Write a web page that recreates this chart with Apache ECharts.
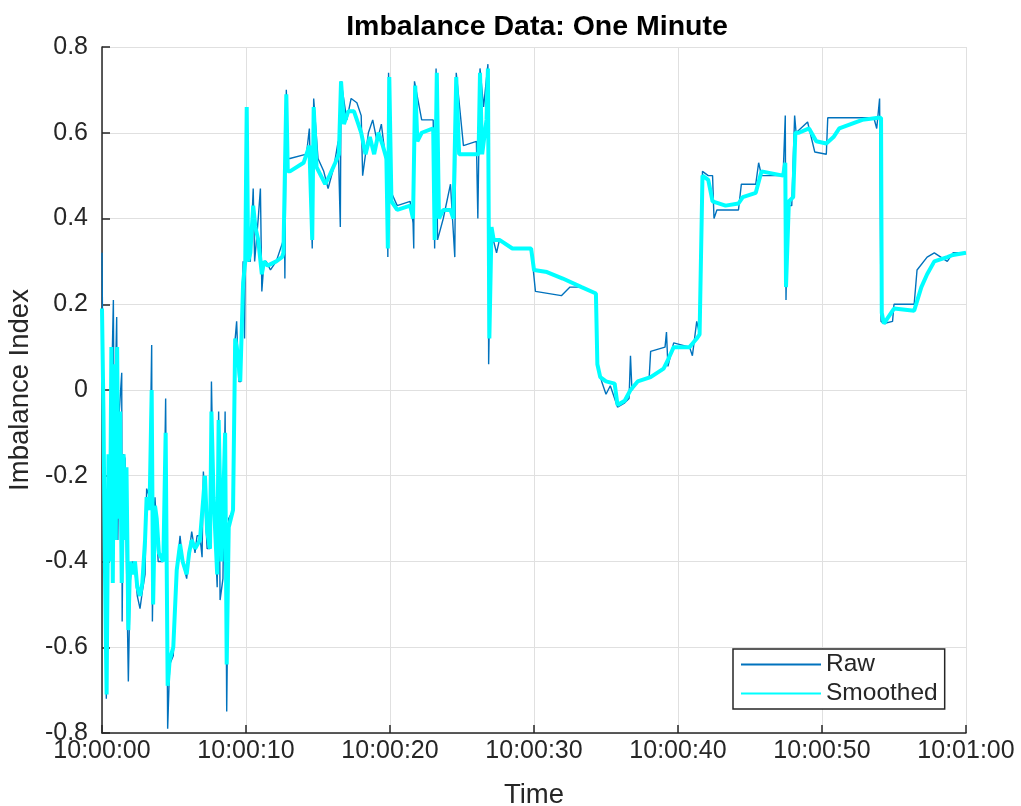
<!DOCTYPE html>
<html>
<head>
<meta charset="utf-8">
<script src="https://cdn.jsdelivr.net/npm/echarts@6/dist/echarts.min.js"></script>
<style>
  html, body { margin: 0; padding: 0; background: #fff; }
  #main { width: 1021px; height: 806px; }
</style>
</head>
<body>
<div id="main"></div>
<script>
// seconds after 10:00:00
const rawTime = [
  0.0, 0.05, 0.15, 0.3, 0.45, 0.6, 0.79, 0.85, 0.95, 1.02, 1.1, 1.2, 1.37, 1.4, 1.5, 1.6, 1.7, 1.83, 1.95, 2.1,
  2.29, 2.45, 2.64, 2.8, 2.99, 3.1, 3.3, 3.45, 3.5, 3.6, 3.68, 3.8, 3.9, 4.26, 4.42, 4.56, 4.7, 4.95, 5.19, 5.42,
  5.6, 5.88, 6.05, 6.23, 6.46, 6.6, 6.8, 6.95, 7.04, 7.15, 7.3, 7.5, 7.6, 7.75, 7.85, 8.0, 8.1, 8.2, 8.4, 8.55,
  8.66, 8.8, 9.1, 9.2, 9.35, 9.5, 9.65, 9.8, 9.9, 10.05, 10.15, 10.3, 10.5, 10.6, 10.85, 11.0, 11.1, 11.25, 11.4, 11.7,
  12.1, 12.6, 12.65, 12.7, 12.8, 12.9, 13.05, 14.2, 14.4, 14.6, 14.7, 15.0, 15.4, 15.7, 16.1, 16.4, 16.55, 16.6, 17.0, 17.3,
  17.7, 18.0, 18.1, 18.5, 18.8, 19.1, 19.4, 19.8, 19.85, 19.9, 20.1, 20.5, 21.4, 21.6, 21.65, 21.7, 22.2, 23.0, 23.1, 23.2,
  23.3, 23.7, 24.2, 24.5, 24.6, 25.1, 26.0, 26.1, 26.25, 26.5, 26.8, 26.85, 27.0, 27.1, 27.4, 27.6, 28.5, 29.8, 30.1, 31.9,
  32.5, 33.3, 34.3, 34.4, 34.7, 35.0, 35.3, 35.8, 36.3, 36.6, 36.7, 36.8, 37.2, 38.0, 38.1, 39.1, 39.2, 39.3, 39.7, 40.8,
  41.0, 41.3, 41.5, 41.7, 42.1, 42.4, 42.5, 42.7, 44.2, 44.4, 45.4, 45.6, 45.8, 47.3, 47.45, 47.5, 47.6, 47.9, 48.1, 48.2,
  49.0, 49.5, 50.3, 50.4, 53.6, 53.8, 54.0, 54.1, 54.3, 54.9, 55.0, 56.4, 56.6, 57.3, 57.8, 58.7, 59.1, 60.0
];
const rawValue = [
  0.32, 0.10, -0.30, -0.72, -0.30, -0.10, 0.21, -0.20, 0.05, 0.17, -0.35, -0.05, 0.04, -0.54, -0.15, -0.16, -0.40, -0.68, -0.45, -0.40,
  -0.42, -0.48, -0.51, -0.47, -0.43, -0.23, -0.25, 0.105, -0.54, -0.30, -0.25, -0.33, -0.40, -0.40, -0.02, -0.79, -0.64, -0.62, -0.42, -0.34,
  -0.40, -0.44, -0.38, -0.33, -0.38, -0.34, -0.34, -0.39, -0.19, -0.19, -0.37, -0.37, 0.02, -0.26, -0.26, -0.46, -0.05, -0.49, -0.44, -0.05,
  -0.75, -0.30, -0.28, 0.10, 0.16, 0.02, 0.02, 0.30, 0.12, 0.66, 0.30, 0.30, 0.47, 0.30, 0.40, 0.47, 0.23, 0.30, 0.30, 0.28,
  0.30, 0.35, 0.47, 0.26, 0.70, 0.54, 0.54, 0.55, 0.61, 0.33, 0.68, 0.54, 0.51, 0.47, 0.52, 0.58, 0.38, 0.72, 0.63, 0.68,
  0.67, 0.64, 0.50, 0.60, 0.63, 0.58, 0.62, 0.51, 0.31, 0.74, 0.46, 0.43, 0.44, 0.39, 0.33, 0.72, 0.63, 0.63, 0.33, 0.75,
  0.35, 0.40, 0.48, 0.31, 0.74, 0.57, 0.58, 0.40, 0.75, 0.66, 0.76, 0.06, 0.37, 0.36, 0.32, 0.35, 0.33, 0.33, 0.23, 0.22,
  0.24, 0.24, 0.225, 0.055, 0.02, -0.01, 0.01, -0.04, -0.03, -0.02, 0.08, 0.0, 0.02, 0.03, 0.09, 0.10, 0.135, 0.055, 0.11, 0.10,
  0.08, 0.16, 0.13, 0.51, 0.50, 0.50, 0.40, 0.42, 0.42, 0.48, 0.48, 0.53, 0.50, 0.50, 0.64, 0.21, 0.43, 0.43, 0.64, 0.60,
  0.625, 0.555, 0.55, 0.635, 0.635, 0.61, 0.68, 0.16, 0.155, 0.16, 0.20, 0.20, 0.28, 0.31, 0.32, 0.30, 0.32, 0.32
];

const smoothTime = [
  0.0, 0.1, 0.2, 0.32, 0.45, 0.55, 0.65, 0.75, 0.85, 0.95, 1.05, 1.15, 1.25, 1.37, 1.5, 1.6, 1.7, 1.83, 1.95, 2.1,
  2.29, 2.45, 2.64, 2.8, 2.99, 3.1, 3.3, 3.45, 3.55, 3.68, 3.8, 3.95, 4.26, 4.42, 4.56, 4.7, 4.95, 5.19, 5.42, 5.6,
  5.88, 6.05, 6.23, 6.46, 6.8, 7.04, 7.15, 7.3, 7.5, 7.6, 7.75, 8.0, 8.1, 8.3, 8.55, 8.66, 8.8, 9.1, 9.25, 9.4,
  9.6, 9.8, 9.95, 10.05, 10.15, 10.3, 10.5, 10.65, 10.85, 11.1, 11.25, 11.5, 12.1, 12.5, 12.6, 12.8, 12.9, 13.05, 14.0, 14.4,
  14.6, 14.7, 14.9, 15.2, 15.5, 15.8, 16.2, 16.45, 16.6, 16.8, 17.1, 17.5, 17.8, 18.0, 18.3, 18.6, 18.9, 19.2, 19.5, 19.75,
  19.85, 19.95, 20.1, 20.5, 21.4, 21.6, 21.65, 21.75, 21.9, 22.2, 23.0, 23.1, 23.25, 23.4, 23.7, 24.2, 24.4, 24.6, 24.8, 25.1,
  26.0, 26.15, 26.25, 26.4, 26.5, 26.7, 26.8, 26.9, 27.05, 27.2, 27.6, 28.5, 29.8, 30.0, 30.9, 32.0, 33.3, 34.3, 34.4, 34.6,
  35.0, 35.6, 35.8, 36.3, 36.7, 37.2, 38.1, 39.0, 39.3, 39.7, 40.8, 41.3, 41.5, 41.7, 42.1, 42.4, 43.3, 44.2, 44.5, 45.4,
  45.8, 47.3, 47.45, 47.5, 47.7, 48.0, 48.15, 48.4, 49.1, 49.6, 50.3, 50.8, 51.2, 52.8, 53.9, 54.1, 54.15, 54.3, 55.0, 56.4,
  56.9, 57.3, 57.8, 58.7, 59.1, 60.0
];
const smoothValue = [
  0.19, -0.05, -0.40, -0.71, -0.15, -0.40, 0.10, -0.45, 0.06, -0.35, 0.10, -0.30, -0.05, -0.45, -0.15, -0.35, -0.18, -0.56, -0.40, -0.43,
  -0.40, -0.46, -0.48, -0.45, -0.35, -0.25, -0.28, 0.00, -0.50, -0.27, -0.30, -0.38, -0.40, -0.10, -0.69, -0.63, -0.60, -0.42, -0.36, -0.40,
  -0.43, -0.38, -0.35, -0.37, -0.35, -0.25, -0.20, -0.33, -0.37, -0.05, -0.25, -0.43, -0.07, -0.40, -0.10, -0.64, -0.32, -0.28, 0.12, 0.09,
  0.02, 0.25, 0.30, 0.66, 0.30, 0.32, 0.43, 0.38, 0.35, 0.27, 0.30, 0.29, 0.30, 0.31, 0.32, 0.69, 0.51, 0.51, 0.53, 0.57,
  0.35, 0.66, 0.52, 0.50, 0.48, 0.50, 0.53, 0.55, 0.72, 0.62, 0.65, 0.65, 0.62, 0.60, 0.55, 0.59, 0.55, 0.60, 0.57, 0.54,
  0.33, 0.73, 0.44, 0.42, 0.43, 0.40, 0.40, 0.71, 0.58, 0.60, 0.61, 0.35, 0.74, 0.40, 0.42, 0.42, 0.40, 0.73, 0.55, 0.55,
  0.55, 0.55, 0.74, 0.55, 0.55, 0.63, 0.75, 0.12, 0.38, 0.35, 0.35, 0.33, 0.33, 0.28, 0.275, 0.26, 0.24, 0.225, 0.06, 0.03,
  0.02, 0.015, -0.035, -0.025, 0.00, 0.02, 0.03, 0.05, 0.07, 0.10, 0.10, 0.12, 0.13, 0.50, 0.49, 0.44, 0.43, 0.435, 0.45, 0.46,
  0.51, 0.50, 0.53, 0.24, 0.44, 0.45, 0.60, 0.60, 0.61, 0.58, 0.575, 0.59, 0.61, 0.63, 0.635, 0.635, 0.18, 0.155, 0.19, 0.185,
  0.24, 0.27, 0.30, 0.31, 0.315, 0.32
];

const xTicks = ['10:00:00', '10:00:10', '10:00:20', '10:00:30', '10:00:40', '10:00:50', '10:01:00'];

const textColor = '#262626';
const fontFamily = '"Liberation Sans", Arial, Helvetica, sans-serif';

const rawData = rawTime.map((t, i) => [t, rawValue[i]]);
const smoothData = smoothTime.map((t, i) => [t, smoothValue[i]]);

const chart = echarts.init(document.getElementById('main'));
const option = {
  animation: false,
  backgroundColor: '#fff',
  textStyle: { fontFamily: fontFamily, color: textColor },
  title: {
    text: 'Imbalance Data: One Minute',
    left: 532,
    textAlign: 'center',
    top: 8,
    textStyle: { fontSize: 28.5, fontWeight: 'bold', color: '#000', fontFamily: fontFamily }
  },
  grid: { left: 102, right: 55, top: 47, bottom: 73, containLabel: false, outerBoundsMode: 'none' },
  legend: {
    left: 733,
    top: 649,
    orient: 'vertical',
    itemWidth: 80,
    itemHeight: 14,
    itemGap: 4,
    padding: [3, 7],
    backgroundColor: '#fff',
    borderColor: textColor,
    borderWidth: 1.5,
    borderRadius: 0,
    itemStyle: { opacity: 0 },
    textStyle: { fontSize: 24.5, color: textColor, fontFamily: fontFamily },
    data: ['Raw', 'Smoothed']
  },
  xAxis: {
    type: 'value',
    min: 0,
    max: 60,
    interval: 10,
    name: 'Time',
    nameLocation: 'middle',
    nameGap: 48,
    nameTextStyle: { fontSize: 27.5, color: textColor },
    axisLine: { show: true, onZero: false, lineStyle: { color: textColor, width: 1.5 } },
    axisTick: { show: true, inside: true, length: 8, lineStyle: { color: textColor, width: 1.5 } },
    axisLabel: {
      fontSize: 25,
      color: textColor,
      margin: 6,
      formatter: v => xTicks[Math.round(v / 10)]
    },
    splitLine: { show: true, lineStyle: { color: '#e0e0e0', width: 1 } }
  },
  yAxis: {
    type: 'value',
    min: -0.8,
    max: 0.8,
    interval: 0.2,
    name: 'Imbalance Index',
    nameLocation: 'middle',
    nameGap: 68,
    nameTextStyle: { fontSize: 27.5, color: textColor },
    axisLine: { show: true, onZero: false, lineStyle: { color: textColor, width: 1.5 } },
    axisTick: { show: true, inside: true, length: 8, lineStyle: { color: textColor, width: 1.5 } },
    axisLabel: {
      fontSize: 25,
      color: textColor,
      margin: 14,
      formatter: v => (Math.abs(v) < 1e-9 ? '0' : v.toFixed(1))
    },
    splitLine: { show: true, lineStyle: { color: '#e0e0e0', width: 1 } }
  },
  series: [
    {
      name: 'Raw',
      type: 'line',
      data: rawData,
      symbol: 'none',
      lineStyle: { color: '#0072bd', width: 1.4 },
      itemStyle: { color: '#0072bd' }
    },
    {
      name: 'Smoothed',
      type: 'line',
      data: smoothData,
      symbol: 'none',
      lineStyle: { color: '#00ffff', width: 4 },
      itemStyle: { color: '#00ffff' }
    }
  ]
};
chart.setOption(option);
</script>
</body>
</html>
